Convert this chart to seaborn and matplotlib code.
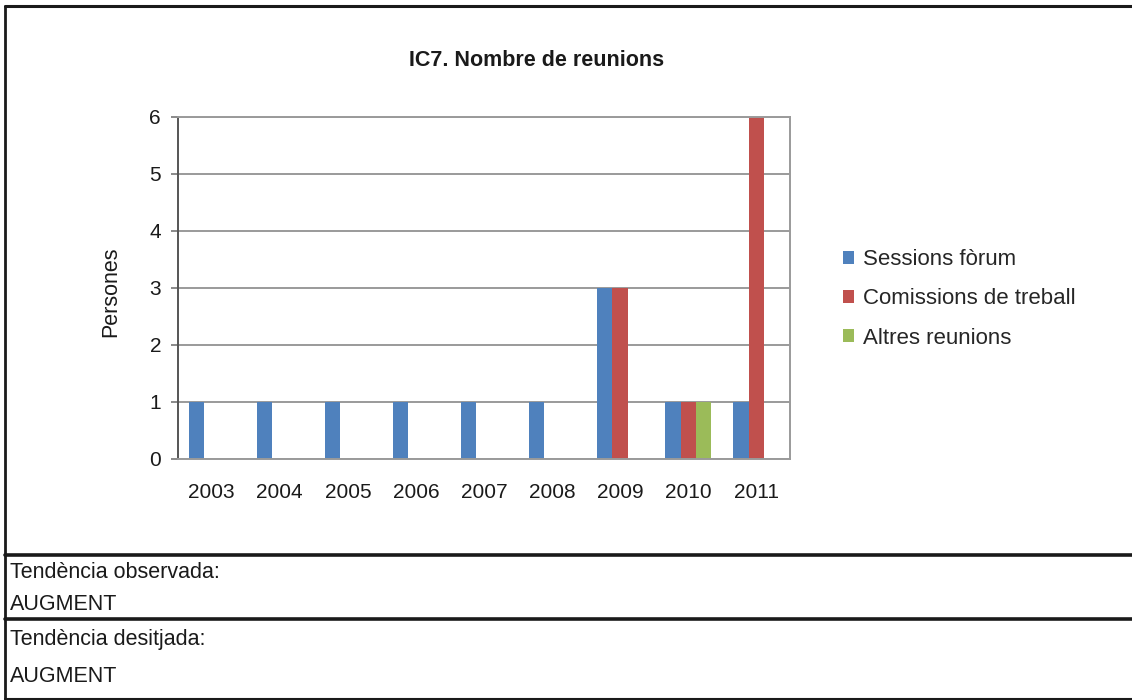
import numpy as np
import pandas as pd

# no display in the sandbox
import matplotlib
matplotlib.use('Agg')
import matplotlib.pyplot as plt
from matplotlib.lines import Line2D
from matplotlib.patches import Patch
import seaborn as sns

years = ['2003', '2004', '2005', '2006', '2007', '2008', '2009', '2010', '2011']
sessions_forum = [1, 1, 1, 1, 1, 1, 3, 1, 1]
comissions_treball = [0, 0, 0, 0, 0, 0, 3, 1, 6]
altres_reunions = [0, 0, 0, 0, 0, 0, 0, 1, 0]
series_names = ['Sessions fòrum', 'Comissions de treball', 'Altres reunions']
y_ticks = [0, 1, 2, 3, 4, 5, 6]

colors = {'Sessions fòrum': '#4F81BD',
          'Comissions de treball': '#C0504D',
          'Altres reunions': '#9BBB59'}

sns.set_style("white")
plt.rcParams['font.family'] = ['Liberation Sans', 'DejaVu Sans']

df = pd.DataFrame({'Any': years,
                   series_names[0]: sessions_forum,
                   series_names[1]: comissions_treball,
                   series_names[2]: altres_reunions})
long_df = df.melt(id_vars='Any', var_name='Serie', value_name='Valor')

fig = plt.figure(figsize=(11.32, 7), dpi=100)
ax = fig.add_axes([0.157, 0.3443, 0.541, 0.4886])

sns.barplot(data=long_df, x='Any', y='Valor', hue='Serie', hue_order=series_names,
            order=years, palette=colors, width=0.667, linewidth=0,
            saturation=1, legend=False, ax=ax)

ax.set_xlim(-0.5, 8.5)
ax.set_ylim(0, 6)
ax.set_yticks(y_ticks)
ax.grid(axis='y', color='#9a9a9a', linewidth=1.4)
ax.set_axisbelow(True)
for side in ['top', 'right', 'bottom']:
    ax.spines[side].set_color('#9a9a9a')
    ax.spines[side].set_linewidth(1.4)
ax.spines['left'].set_color('#555555')
ax.spines['left'].set_linewidth(1.4)

ax.tick_params(axis='x', length=0, pad=17, labelsize=15, labelcolor='#1a1a1a')
ax.tick_params(axis='y', length=5, width=1.2, color='#777777', pad=7,
               labelsize=15, labelcolor='#1a1a1a', left=True)
ax.set_xlabel('')
ax.set_ylabel('Persones', fontsize=15.5, color='#1a1a1a')
ax.yaxis.set_label_coords(-0.092, 0.49)

fig.text(0.474, 0.914, 'IC7. Nombre de reunions', ha='center', va='center',
         fontsize=15.5, fontweight='bold', color='#1a1a1a')

handles = [Patch(facecolor=colors[n], edgecolor='none', label=n) for n in series_names]
fig.legend(handles=handles, loc='center left', bbox_to_anchor=(0.737, 0.573),
           frameon=False, fontsize=16, handlelength=0.5, handleheight=0.5,
           handletextpad=0.4, labelspacing=0.82, borderaxespad=0)

# table frame around the chart and the comments below it
def hline(y_px, lw):
    fig.add_artist(Line2D([0.004, 1.0], [1 - y_px / 700, 1 - y_px / 700],
                          color='#1a1a1a', linewidth=lw, transform=fig.transFigure))

hline(6, 2.2)
hline(555, 2.6)
hline(619, 2.6)
hline(698.5, 1.5)
fig.add_artist(Line2D([0.0044, 0.0044], [1 - 6 / 700, 1 - 699 / 700],
                      color='#1a1a1a', linewidth=2.0, transform=fig.transFigure))

rows = [('Tendència observada:', 572), ('AUGMENT', 605),
        ('Tendència desitjada:', 640), ('AUGMENT', 677)]
for label, y_px in rows:
    fig.text(0.009, 1 - y_px / 700, label, ha='left', va='center',
             fontsize=15.5, color='#1a1a1a')

fig.savefig('out.png', dpi=100)
plt.close(fig)
